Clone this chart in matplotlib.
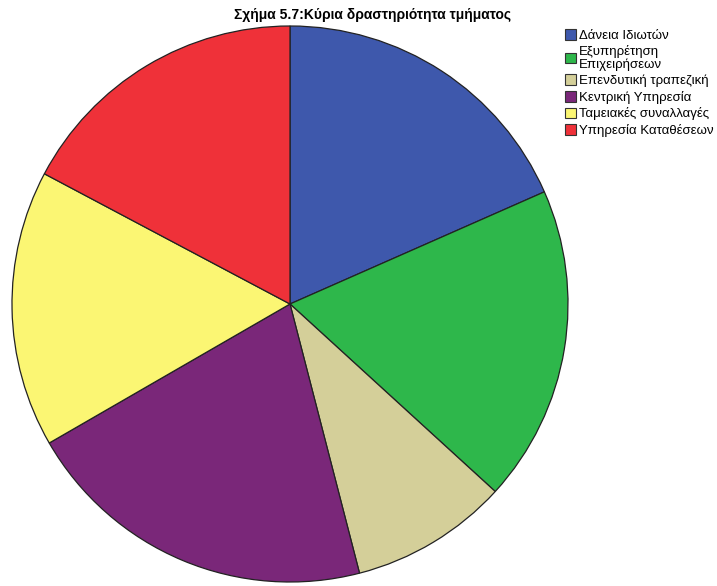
import matplotlib
matplotlib.use("Agg")
import matplotlib.pyplot as plt
from matplotlib.patches import Patch

plt.rcParams['font.family'] = ['Liberation Sans', 'DejaVu Sans']

# department activities and respondent counts
labels = ["Δάνεια Ιδιωτών", "Εξυπηρέτηση\nΕπιχειρήσεων", "Επενδυτική τραπεζική",
          "Κεντρική Υπηρεσία", "Ταμειακές συναλλαγές", "Υπηρεσία Καταθέσεων"]
counts = [16, 16, 8, 18, 14, 15]
colors = ["#3e58ac", "#2eb74b", "#d4cf99", "#7a2779", "#fbf673", "#ef3139"]

W, H = 717, 586
fig = plt.figure(figsize=(W / 100, H / 100), dpi=100)

# pie centred at (290, 304) px with radius 278 px
cx, cy, r = 290, 304, 278
ax = fig.add_axes([(cx - r) / W, (H - cy - r) / H, 2 * r / W, 2 * r / H])
ax.pie(counts, colors=colors, startangle=90, counterclock=False, radius=1,
       wedgeprops=dict(edgecolor="#222222", linewidth=0.9))
ax.set_xlim(-1.0, 1.0)
ax.set_ylim(-1.0, 1.0)
ax.set_aspect("equal")
ax.axis("off")

fig.text(373 / W, 1 - 15 / H, "Σχήμα 5.7:Κύρια δραστηριότητα τμήματος",
         ha="center", va="center", fontsize=10, fontweight="bold")

handles = [Patch(facecolor=c, edgecolor="#333333", linewidth=0.8) for c in colors]
leg = fig.legend(handles, labels, loc="upper left", bbox_to_anchor=(565 / W, 1 - 29 / H),
                 frameon=False, fontsize=9.5, handlelength=0.85, handleheight=0.85,
                 handletextpad=0.2, labelspacing=0.27, borderpad=0, borderaxespad=0)
for t in leg.get_texts():
    t.set_linespacing(1.0)

fig.savefig("out.png", dpi=100)
